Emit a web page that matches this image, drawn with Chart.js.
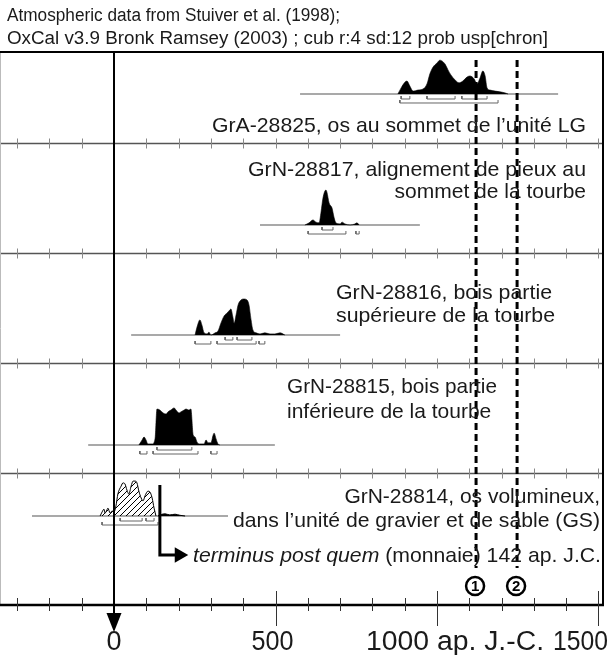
<!DOCTYPE html>
<html>
<head>
<meta charset="utf-8">
<script src="https://cdn.jsdelivr.net/npm/chart.js@4/dist/chart.umd.min.js"></script>
<style>
  html, body { margin: 0; padding: 0; background: #fff; }
</style>
</head>
<body>
<canvas id="c" width="611" height="655"></canvas>
<script>
// calibrated dates: years (ap. J.-C.) and relative probability
var gra28825Years = [879, 889, 901, 907, 916, 926, 941, 957, 969, 978, 988, 1000, 1009, 1015, 1025, 1034, 1043, 1056, 1068, 1080, 1093, 1102, 1115, 1124, 1133, 1142, 1149, 1155, 1164, 1180, 1195, 1211, 1220];
var gra28825Prob = [0, .17, .33, .36, .22, .08, .11, .14, .28, .56, .75, .86, .94, .92, .83, .67, .53, .39, .31, .36, .47, .5, .42, .28, .44, .64, .5, .17, .11, .08, .06, .03, 0];

var grn28817Years = [591, 604, 616, 625, 635, 641, 647, 656, 659, 666, 675, 681, 687, 700, 706, 715, 731, 746, 752, 759];
var grn28817Prob = [0, .06, .14, .08, .06, .36, .75, .97, .92, .61, .47, .22, .06, .03, .08, .03, 0, .03, .06, 0];

var grn28816Years = [251, 257, 266, 272, 279, 288, 294, 300, 313, 322, 331, 341, 350, 356, 362, 368, 372, 378, 384, 393, 402, 412, 418, 424, 430, 440, 452, 467, 483, 498, 514, 529];
var grn28816Prob = [0, .22, .42, .28, .06, .03, .08, 0, .06, .11, .33, .53, .61, .67, .72, .5, .33, .56, .83, .97, 1, .97, .83, .44, .14, .06, .03, .06, .03, .03, .06, 0];

var grn28815Years = [77, 87, 93, 99, 105, 118, 127, 133, 142, 152, 161, 167, 176, 186, 192, 201, 207, 217, 223, 232, 238, 245, 251, 257, 266, 279, 285, 291, 300, 307, 310, 316, 322, 328];
var grn28815Prob = [0, .14, .22, .14, .03, .03, .17, 1, .97, .89, .86, .92, .97, 1.03, .97, .89, .92, .97, 1, .97, 1, .28, .22, .08, .03, .03, .14, .06, .06, .28, .33, .17, .03, 0];

var grn28814Years = [-43, -37, -31, -28, -22, -19, -12, -6, 0, 6, 12, 22, 28, 34, 40, 46, 53, 59, 65, 71, 77, 84, 90, 96, 105, 111, 118, 124, 130];
var grn28814Prob = [0, .11, .19, .08, .17, .22, .08, .14, .11, .28, .61, .83, .92, .89, .72, .61, .83, .97, .97, .92, .69, .5, .42, .56, .69, .67, .5, .22, 0];
var grn28814TailYears = [136, 142, 158, 173, 189, 204, 220];
var grn28814TailProb = [0, .03, .06, .03, .05, .02, 0];

// 68.2% and 95.4% ranges
var gra28825R68 = [[889, 916], [969, 1056], [1077, 1155]];
var gra28825R95 = [[885, 1189]];
var grn28817R68 = [[644, 678]];
var grn28817R95 = [[601, 718], [749, 759]];
var grn28816R68 = [[344, 368], [381, 427]];
var grn28816R95 = [[251, 300], [319, 440], [449, 467]];
var grn28815R68 = [[133, 241]];
var grn28815R95 = [[80, 102], [121, 260], [300, 319]];
var grn28814R68 = [[19, 87], [99, 124]];
var grn28814R95 = [[-37, 136]];

// span of each plotted curve
var gra28825Span = [576, 1375];
var grn28817Span = [452, 947];
var grn28816Span = [53, 700];
var grn28815Span = [-80, 498];
var grn28814Span = [-254, 353];

var markerYears = [1121, 1248];   // (1) and (2)
var terminusYear = 142;
var centuryTicks = [];
for (var t = -300; t <= 1500; t += 100) centuryTicks.push(t);
var axisLabels = ['0', '500', '1000 ap. J.-C.', '1500'];

// layout (rows of 110px, y axis reversed)
var ROW = 110;
var rowBase = [0.5545, 1.7455, 2.7455, 3.7455, 4.391];
var dividers = [1, 2, 3, 4];
var peak = 36 / ROW;

function curve(years, probs, base) {
  return years.map(function (y, i) { return { x: y, y: base - probs[i] * peak }; });
}

function brackets(ranges, y) {
  var tick = 3 / ROW, pts = [];
  ranges.forEach(function (r) {
    pts.push({ x: r[0], y: y - tick }, { x: r[0], y: y }, { x: r[1], y: y }, { x: r[1], y: y - tick }, { x: r[1], y: null });
  });
  return pts;
}

function hatch() {
  var p = document.createElement('canvas');
  p.width = 6; p.height = 6;
  var g = p.getContext('2d');
  g.strokeStyle = '#000';
  g.lineWidth = 1;
  g.beginPath();
  g.moveTo(0, 6); g.lineTo(6, 0);
  g.moveTo(-1, 1); g.lineTo(1, -1);
  g.moveTo(5, 7); g.lineTo(7, 5);
  g.stroke();
  return g.createPattern(p, 'repeat');
}

var samples = [
  { years: gra28825Years, prob: gra28825Prob, r68: gra28825R68, r95: gra28825R95, span: gra28825Span },
  { years: grn28817Years, prob: grn28817Prob, r68: grn28817R68, r95: grn28817R95, span: grn28817Span },
  { years: grn28816Years, prob: grn28816Prob, r68: grn28816R68, r95: grn28816R95, span: grn28816Span },
  { years: grn28815Years, prob: grn28815Prob, r68: grn28815R68, r95: grn28815R95, span: grn28815Span },
  { years: grn28814Years, prob: grn28814Prob, r68: grn28814R68, r95: grn28814R95, span: grn28814Span }
];

var datasets = [];
samples.forEach(function (s, i) {
  var b = rowBase[i];
  datasets.push({
    data: [{ x: s.span[0], y: b }, { x: s.span[1], y: b }],
    borderColor: '#555', borderWidth: 1.2, pointRadius: 0, order: 3
  });
  datasets.push({
    data: curve(s.years, s.prob, b),
    borderColor: '#000', borderWidth: i === 4 ? 1 : 0.6,
    backgroundColor: i === 4 ? hatch() : '#000',
    fill: { value: b }, pointRadius: 0, cubicInterpolationMode: 'monotone', order: 2
  });
  datasets.push({
    data: brackets(s.r68, b + 5 / ROW).concat(brackets(s.r95, b + 9 / ROW)),
    borderColor: '#666', borderWidth: 1, pointRadius: 0, spanGaps: false, order: 1
  });
});

datasets.push({
  data: curve(grn28814TailYears, grn28814TailProb, rowBase[4]),
  borderColor: '#000', borderWidth: 1, backgroundColor: '#000',
  fill: { value: rowBase[4] }, pointRadius: 0, cubicInterpolationMode: 'monotone', order: 2
});

markerYears.forEach(function (yr) {
  datasets.push({
    data: [{ x: yr, y: 0.245 }, { x: yr, y: 4.864 }],
    borderColor: '#000', borderWidth: 3, borderDash: [7, 4], pointRadius: 0, order: 0
  });
});

// terminus post quem arrow
datasets.push({
  data: [{ x: terminusYear, y: 4.109 }, { x: terminusYear, y: 4.745 }, { x: 202, y: 4.745 }],
  borderColor: '#000', borderWidth: 3, pointRadius: [0, 0, 9], pointStyle: 'triangle',
  rotation: 90, pointBackgroundColor: '#000', pointBorderColor: '#000', pointBorderWidth: 0, order: 0
});

function fitText(ctx, str, x, y, w, align) {
  var m = ctx.measureText(str).width;
  var sx = w ? w / m : 1;
  ctx.save();
  ctx.translate(x, y);
  ctx.scale(sx, 1);
  ctx.textAlign = align || 'left';
  ctx.fillText(str, 0, 0);
  ctx.restore();
}

var decor = {
  id: 'decor',
  beforeDatasetsDraw: function (chart) {
    var ctx = chart.ctx, xs = chart.scales.x, ys = chart.scales.y, a = chart.chartArea;
    ctx.save();
    dividers.forEach(function (r) {
      var y = Math.round(ys.getPixelForValue(r)) + 0.5;
      ctx.strokeStyle = '#555';
      ctx.lineWidth = 1.3;
      ctx.beginPath(); ctx.moveTo(a.left, y); ctx.lineTo(a.right, y); ctx.stroke();
      ctx.strokeStyle = '#888';
      ctx.lineWidth = 1;
      centuryTicks.forEach(function (t) {
        var x = Math.round(xs.getPixelForValue(t)) + 0.5;
        ctx.beginPath(); ctx.moveTo(x, y - 5); ctx.lineTo(x, y + 5); ctx.stroke();
      });
    });
    ctx.restore();
  },
  afterDatasetsDraw: function (chart) {
    var ctx = chart.ctx, xs = chart.scales.x, a = chart.chartArea;
    ctx.save();
    // frame
    ctx.strokeStyle = '#bbb'; ctx.lineWidth = 1;
    ctx.beginPath(); ctx.moveTo(0.5, a.top); ctx.lineTo(0.5, a.bottom); ctx.stroke();
    ctx.strokeStyle = '#000'; ctx.lineWidth = 2;
    ctx.beginPath(); ctx.moveTo(a.left, a.top); ctx.lineTo(a.right, a.top); ctx.lineTo(a.right, a.bottom); ctx.stroke();
    ctx.lineWidth = 2.5;
    ctx.beginPath(); ctx.moveTo(a.left, a.bottom); ctx.lineTo(a.right + 1, a.bottom); ctx.stroke();

    // bottom axis ticks
    ctx.strokeStyle = '#333'; ctx.lineWidth = 1;
    centuryTicks.forEach(function (t) {
      if (t === 0) return;
      var x = Math.round(xs.getPixelForValue(t)) + 0.5;
      var major = t % 500 === 0;
      ctx.beginPath();
      ctx.moveTo(x, a.bottom - (major ? 14 : 7));
      ctx.lineTo(x, a.bottom + (major ? 21 : 6));
      ctx.stroke();
    });

    // year 0 line and arrow
    var x0 = Math.round(xs.getPixelForValue(0));
    ctx.strokeStyle = '#000'; ctx.lineWidth = 2;
    ctx.beginPath(); ctx.moveTo(x0, a.top); ctx.lineTo(x0, a.bottom + 10); ctx.stroke();
    ctx.fillStyle = '#000';
    ctx.beginPath(); ctx.moveTo(x0 - 7.5, a.bottom + 8); ctx.lineTo(x0 + 7.5, a.bottom + 8); ctx.lineTo(x0, a.bottom + 27); ctx.closePath(); ctx.fill();

    // circled markers
    markerYears.forEach(function (yr, i) {
      var x = xs.getPixelForValue(yr) - 1, y = a.bottom - 19;
      ctx.beginPath(); ctx.arc(x, y, 9, 0, Math.PI * 2);
      ctx.fillStyle = '#fff'; ctx.fill();
      ctx.lineWidth = 2.5; ctx.strokeStyle = '#000'; ctx.stroke();
      ctx.fillStyle = '#000';
      ctx.font = 'bold 15px "Liberation Sans", Arial, sans-serif';
      ctx.textAlign = 'center'; ctx.textBaseline = 'middle';
      ctx.fillText(String(i + 1), x, y + 1);
    });

    ctx.textBaseline = 'alphabetic';
    ctx.fillStyle = '#1a1a1a';

    // axis labels
    ctx.font = '27px "Liberation Sans", Arial, sans-serif';
    fitText(ctx, axisLabels[0], x0, 650, 15, 'center');
    fitText(ctx, axisLabels[1], xs.getPixelForValue(500) - 3, 650, 42, 'center');
    fitText(ctx, axisLabels[2], 366, 650, 178, 'left');
    fitText(ctx, axisLabels[3], 608, 650, 55, 'right');

    // header
    ctx.font = '18px "Liberation Sans", Arial, sans-serif';
    fitText(ctx, 'Atmospheric data from Stuiver et al. (1998);', 7, 21, 333, 'left');
    fitText(ctx, 'OxCal v3.9 Bronk Ramsey (2003) ; cub r:4 sd:12 prob usp[chron]', 7, 44, 541, 'left');

    // sample labels
    ctx.font = '21px "Liberation Sans", Arial, sans-serif';
    fitText(ctx, 'GrA-28825, os au sommet de l\u2019unit\u00e9 LG', 586, 132, 374, 'right');
    fitText(ctx, 'GrN-28817, alignement de pieux au', 586, 176, 338, 'right');
    fitText(ctx, 'sommet de la tourbe', 586, 198, null, 'right');
    fitText(ctx, 'GrN-28816, bois partie', 336, 299, 216, 'left');
    fitText(ctx, 'sup\u00e9rieure de la tourbe', 336, 322, 219, 'left');
    fitText(ctx, 'GrN-28815, bois partie', 287, 393, 210, 'left');
    fitText(ctx, 'inf\u00e9rieure de la tourbe', 287, 418, null, 'left');
    fitText(ctx, 'GrN-28814, os volumineux,', 600, 503, null, 'right');
    fitText(ctx, 'dans l\u2019unit\u00e9 de gravier et de sable (GS)', 600, 527, 367, 'right');

    // terminus post quem line: italic part + plain part, fitted together
    var it = 'terminus post quem', rest = ' (monnaie) 142 ap. J.C.';
    ctx.font = 'italic 21px "Liberation Sans", Arial, sans-serif';
    var w1 = ctx.measureText(it).width;
    ctx.font = '21px "Liberation Sans", Arial, sans-serif';
    var w2 = ctx.measureText(rest).width;
    var k = 408 / (w1 + w2);
    ctx.save();
    ctx.translate(193, 562);
    ctx.scale(k, 1);
    ctx.textAlign = 'left';
    ctx.font = 'italic 21px "Liberation Sans", Arial, sans-serif';
    ctx.fillText(it, 0, 0);
    ctx.font = '21px "Liberation Sans", Arial, sans-serif';
    ctx.fillText(rest, w1, 0);
    ctx.restore();

    ctx.restore();
  }
};

new Chart(document.getElementById('c'), {
  type: 'line',
  data: { datasets: datasets },
  options: {
    responsive: false,
    animation: false,
    layout: { autoPadding: false, padding: { top: 52, bottom: 50, left: 0, right: 8 } },
    plugins: { legend: { display: false }, tooltip: { enabled: false } },
    scales: {
      x: { type: 'linear', min: -353, max: 1514, display: false },
      y: { type: 'linear', reverse: true, min: 0.1727, max: 5.2, display: false }
    }
  },
  plugins: [decor]
});
</script>
</body>
</html>
